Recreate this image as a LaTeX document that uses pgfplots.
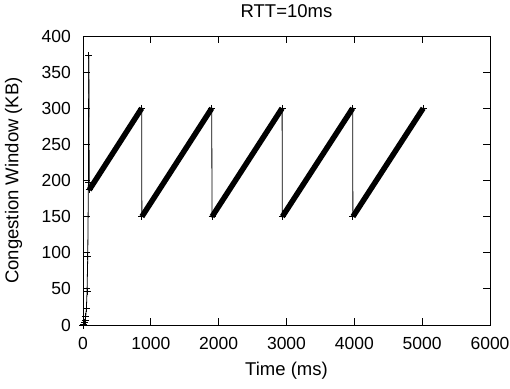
\documentclass[border=0pt]{standalone}
\usepackage{fontspec}
\setmainfont{Liberation Sans}
\usepackage{pgfplots}
\pgfplotsset{compat=1.18}

\begin{document}
\begin{tikzpicture}[font=\fontsize{17.5}{20}\selectfont]
\begin{axis}[
  scale only axis,
  width=407pt, height=289pt,
  xmin=0, xmax=6000, ymin=0, ymax=400,
  xtick={0,1000,...,6000}, ytick={0,50,...,400},
  tick align=inside, major tick length=7pt,
  tick style={black, line width=0.8pt},
  axis line style={black, line width=0.9pt},
  scaled ticks=false,
  /pgf/number format/assume math mode=true,
  /pgf/number format/set thousands separator={},
  xticklabel style={anchor=base, inner sep=0pt, yshift=-24.5pt},
  yticklabel style={anchor=east, inner sep=0pt, xshift=-12pt},
  title={RTT=10ms},
  title style={at={(0.5,1)}, anchor=base, inner sep=0pt, yshift=13pt,
               font=\fontsize{18.5}{21}\selectfont},
  xlabel={Time (ms)},
  xlabel style={at={(axis description cs:0.5,0)}, anchor=base, inner sep=0pt, yshift=-50.5pt,
                font=\fontsize{18.5}{21}\selectfont},
  ylabel={Congestion Window (KB)},
  ylabel style={at={(axis description cs:-0.1585,0.5)}, anchor=base, inner sep=0pt,
                font=\fontsize{18.5}{21}\selectfont},
  clip=false,
]
% slow start: window doubles every RTT until the first loss
\addplot[black, line width=0.8pt, mark=+, mark size=3.5pt, mark options={line width=0.8pt}]
  coordinates {(0,0) (5,0.7) (10,1.5) (20,3) (30,6) (40,12) (50,23) (60,47) (70,95) (80,198) (85,373)};
% thin trace: halving after loss, then the congestion-avoidance teeth
\addplot[black, line width=0.8pt]
  coordinates {(85,373) (92,187) (865,300) (868,150) (1898,300) (1902,150)
               (2935,300) (2939,150) (3975,300) (3979,150) (5015,300)};
% additive increase segments (one sample per RTT, drawn as a dense band)
\addplot[black, line width=5.5pt, mark=+, mark size=3.5pt, mark options={line width=1pt}]
  coordinates {(92,187) (865,300)};
\addplot[black, line width=5.5pt, mark=+, mark size=3.5pt, mark options={line width=1pt}]
  coordinates {(868,150) (1898,300)};
\addplot[black, line width=5.5pt, mark=+, mark size=3.5pt, mark options={line width=1pt}]
  coordinates {(1902,150) (2935,300)};
\addplot[black, line width=5.5pt, mark=+, mark size=3.5pt, mark options={line width=1pt}]
  coordinates {(2939,150) (3975,300)};
\addplot[black, line width=5.5pt, mark=+, mark size=3.5pt, mark options={line width=1pt}]
  coordinates {(3979,150) (5015,300)};
\end{axis}
\pgfresetboundingbox
\path[use as bounding box] ([xshift=-83pt,yshift=-63pt]current axis.south west) rectangle ++(510pt,388pt);
\end{tikzpicture}
\end{document}
